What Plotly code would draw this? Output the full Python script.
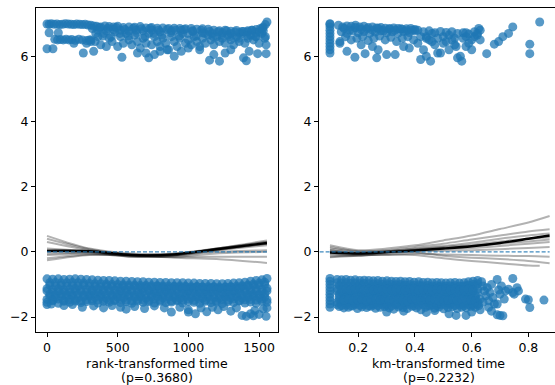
import plotly.graph_objects as go

# ---------------- data: rank-transformed time panel ----------------
rank_top_x = [0, 15, 30, 50, 70, 90, 110, 130, 150, 170, 190, 210, 230, 250, 270, 290, 310, 330,
              350, 380, 410, 440, 470, 500, 540, 580, 620, 660, 700, 740, 780, 820, 860, 900, 940, 980, 1020, 1060, 1100, 1140,
              1180, 1220, 1260, 1300, 1340, 1380, 1420, 1450, 1480, 1510, 1530, 1545, 1556,
              55, 75, 95, 115, 135, 155, 175, 200, 225, 250, 280, 310, 340,
              0, 42, 15, 80, 190, 257, 280, 300,
              310, 330, 360, 380, 400, 420, 440, 460, 480, 500, 520, 540, 560, 580, 600, 620, 640, 660, 680, 700,
              720, 740, 760, 780, 800, 820, 840, 860, 880, 900, 920, 940, 960, 980, 1000, 1020, 1040, 1060, 1080,
              1100, 1120, 1140, 1160, 1180, 1200, 1220, 1240, 1260, 1280, 1300, 1320, 1340, 1360, 1380, 1400, 1420,
              1440, 1460, 1480, 1500, 1520, 1540, 1550,
              530, 720, 640, 700, 760, 800, 850, 900, 950, 1150, 1180, 1220, 1260, 1300, 1390, 1410, 1430, 1490, 1550, 1000, 1080,
              360, 420, 470, 520, 580, 630, 680, 740, 800, 880, 950, 1030, 1100, 1170, 1240, 1300, 1360, 1420, 1480, 1530]
rank_top_y = [6.99, 6.98, 7.0, 6.98, 6.99, 6.97, 6.98, 7.0, 6.99, 6.98, 6.97, 6.99, 6.98, 6.97, 6.98, 6.96, 6.95, 6.93,
              6.92, 6.9, 6.93, 6.91, 6.9, 6.92, 6.88, 6.9, 6.89, 6.91, 6.87, 6.88, 6.86, 6.87, 6.85, 6.86, 6.85, 6.84, 6.85, 6.83, 6.84, 6.83,
              6.8, 6.78, 6.8, 6.77, 6.79, 6.76, 6.78, 6.8, 6.82, 6.85, 6.9, 6.97, 7.05,
              6.52, 6.5, 6.51, 6.5, 6.52, 6.5, 6.51, 6.49, 6.52, 6.5, 6.48, 6.5, 6.45,
              6.23, 6.23, 6.72, 6.72, 6.4, 6.1, 6.4, 6.5,
              6.45, 6.15, 6.6, 6.35, 6.7, 6.3, 6.55, 6.45, 6.75, 6.3, 6.6, 6.4, 6.7, 6.5, 6.35, 6.65, 6.45, 6.25, 6.55, 6.4,
              6.7, 6.35, 6.6, 6.45, 6.3, 6.55, 6.4, 6.2, 6.6, 6.45, 6.3, 6.55, 6.7, 6.4, 6.5, 6.35, 6.6, 6.45, 6.3,
              6.55, 6.4, 6.65, 6.5, 6.35, 6.6, 6.45, 6.55, 6.4, 6.65, 6.5, 6.35, 6.6, 6.45, 6.7, 6.4, 6.55,
              6.65, 6.5, 6.6, 6.4, 6.7, 6.55, 6.35,
              5.97, 5.95, 6.1, 6.1, 6.05, 6.15, 6.2, 6.0, 6.15, 5.88, 6.05, 5.85, 6.1, 6.2, 5.95, 5.86, 6.15, 6.08, 6.08, 6.25, 6.2,
              6.8, 6.78, 6.82, 6.8, 6.77, 6.8, 6.78, 6.8, 6.75, 6.78, 6.8, 6.76, 6.72, 6.7, 6.72, 6.7, 6.72, 6.75, 6.73, 6.78]
rank_top2_x = [320, 345, 370, 395, 430, 455, 490, 515, 550, 575, 610, 635, 670, 695, 730, 755, 790, 815, 850, 875,
               910, 935, 970, 995, 1030, 1055, 1090, 1115, 1150, 1175, 1210, 1235, 1270, 1295, 1330, 1355, 1390, 1415,
               1450, 1475, 1505, 1525, 1545]
rank_top2_y = [6.85, 6.7, 6.88, 6.62, 6.85, 6.6, 6.88, 6.7, 6.82, 6.62, 6.86, 6.72, 6.84, 6.6, 6.86, 6.7, 6.8, 6.65, 6.82, 6.72,
               6.8, 6.62, 6.82, 6.7, 6.78, 6.62, 6.8, 6.7, 6.76, 6.6, 6.75, 6.65, 6.78, 6.6, 6.74, 6.55, 6.76, 6.62,
               6.8, 6.6, 6.75, 6.85, 6.6]

rank_band_x_even = [0, 40, 80, 120, 160, 200, 240, 280, 320, 360, 400, 440, 480, 520, 560, 600, 640, 680, 720, 760,
                    800, 840, 880, 920, 960, 1000, 1040, 1080, 1120, 1160, 1200, 1240, 1280, 1320, 1360, 1400, 1440, 1480, 1520, 1556]
rank_band_x_odd = [20, 60, 100, 140, 180, 220, 260, 300, 340, 380, 420, 460, 500, 540, 580, 620, 660, 700, 740, 780,
                   820, 860, 900, 940, 980, 1020, 1060, 1100, 1140, 1180, 1220, 1260, 1300, 1340, 1380, 1420, 1460, 1500, 1540]
rank_band_y1 = [-0.83, -0.84, -0.83, -0.85, -0.84, -0.83, -0.84, -0.85, -0.86, -0.87, -0.88, -0.88, -0.89, -0.9, -0.9, -0.91,
                -0.92, -0.92, -0.93, -0.93, -0.94, -0.94, -0.95, -0.95, -0.95, -0.96, -0.96, -0.97, -0.97, -0.97, -0.98, -0.98,
                -0.97, -0.96, -0.95, -0.93, -0.9, -0.88, -0.86, -0.82]
rank_band_y2 = [-1.02, -1.05, -1.03, -1.06, -1.04, -1.05, -1.02, -1.06, -1.05, -1.07, -1.04, -1.06, -1.08, -1.05, -1.07, -1.06,
                -1.08, -1.07, -1.09, -1.06, -1.08, -1.1, -1.07, -1.09, -1.08, -1.1, -1.07, -1.09, -1.1, -1.08, -1.11, -1.09,
                -1.08, -1.1, -1.07, -1.05, -1.03, -1.02, -1.0]
rank_band_y3 = [-1.2, -1.24, -1.21, -1.23, -1.25, -1.2, -1.22, -1.24, -1.21, -1.25, -1.23, -1.22, -1.26, -1.21, -1.24, -1.22,
                -1.25, -1.23, -1.21, -1.26, -1.24, -1.22, -1.25, -1.23, -1.27, -1.22, -1.24, -1.26, -1.23, -1.25, -1.22, -1.27,
                -1.24, -1.23, -1.26, -1.22, -1.25, -1.21, -1.24, -1.2]
rank_band_y4 = [-1.36, -1.4, -1.37, -1.39, -1.35, -1.41, -1.38, -1.36, -1.4, -1.38, -1.42, -1.37, -1.39, -1.41, -1.36, -1.4,
                -1.38, -1.42, -1.39, -1.37, -1.41, -1.38, -1.4, -1.43, -1.37, -1.41, -1.39, -1.42, -1.38, -1.4, -1.43, -1.39,
                -1.41, -1.38, -1.42, -1.4, -1.37, -1.41, -1.39]
rank_band_y5 = [-1.55, -1.5, -1.58, -1.52, -1.55, -1.51, -1.56, -1.53, -1.5, -1.57, -1.52, -1.55, -1.5, -1.56, -1.53, -1.58,
                -1.51, -1.55, -1.53, -1.57, -1.52, -1.56, -1.54, -1.5, -1.57, -1.53, -1.55, -1.58, -1.52, -1.56, -1.54, -1.59,
                -1.53, -1.56, -1.51, -1.57, -1.54, -1.58, -1.52, -1.55]
rank_band_y6 = [-0.95, -0.94, -0.96, -0.95, -0.94, -0.95, -0.96, -0.97, -0.98, -0.98, -0.99, -1.0, -1.0, -1.01, -1.02, -1.02,
                -1.03, -1.03, -1.04, -1.04, -1.05, -1.05, -1.06, -1.05, -1.06, -1.07, -1.07, -1.08, -1.07, -1.08, -1.09, -1.08,
                -1.07, -1.06, -1.04, -1.02, -0.99, -0.96, -0.93]
rank_band_y7 = [-1.13, -1.16, -1.14, -1.17, -1.15, -1.13, -1.16, -1.15, -1.17, -1.14, -1.16, -1.15, -1.18, -1.14, -1.16, -1.17,
                -1.15, -1.13, -1.17, -1.16, -1.14, -1.18, -1.15, -1.16, -1.14, -1.17, -1.15, -1.18, -1.16, -1.14, -1.17, -1.15,
                -1.16, -1.18, -1.14, -1.16, -1.15, -1.13, -1.16, -1.12]
rank_band_y8 = [-1.3, -1.32, -1.29, -1.33, -1.31, -1.3, -1.34, -1.31, -1.29, -1.32, -1.3, -1.33, -1.31, -1.29, -1.32, -1.34,
                -1.3, -1.31, -1.33, -1.29, -1.32, -1.3, -1.34, -1.31, -1.32, -1.29, -1.33, -1.3, -1.32, -1.31, -1.34, -1.3,
                -1.32, -1.29, -1.33, -1.31, -1.3, -1.32, -1.29]
rank_band_y9 = [-1.46, -1.48, -1.45, -1.49, -1.47, -1.46, -1.5, -1.47, -1.45, -1.48, -1.46, -1.49, -1.47, -1.45, -1.48, -1.5,
                -1.46, -1.47, -1.49, -1.45, -1.48, -1.46, -1.5, -1.47, -1.48, -1.45, -1.49, -1.46, -1.48, -1.47, -1.5, -1.46,
                -1.48, -1.45, -1.49, -1.47, -1.46, -1.48, -1.45, -1.47]
rank_low_x = [0, 30, 120, 180, 250, 330, 400, 460, 520, 560, 620, 690, 760, 830, 880, 940, 1000, 1050, 1090, 1130, 1170,
              1210, 1250, 1300, 1340, 1380, 1410, 1440, 1470, 1500, 1530, 1550, 1556, 1000, 1460]
rank_low_y = [-1.62, -1.6, -1.65, -1.62, -1.7, -1.66, -1.72, -1.65, -1.7, -1.76, -1.68, -1.74, -1.66, -1.72, -1.85, -1.7,
              -1.78, -1.9, -1.72, -1.84, -1.7, -1.78, -1.68, -1.82, -1.72, -1.95, -1.98, -1.9, -1.8, -1.92, -1.75, -1.98,
              -1.72, -1.85, -1.96]

rank_fit_x = [0, 300, 600, 900, 1200, 1556]
rank_fit_black = [0.03, 0.02, -0.1, -0.08, 0.08, 0.27]
rank_fit_gray = [
    [0.49, 0.1, -0.05, -0.05, 0.1, 0.3],
    [0.4, 0.08, -0.08, -0.06, 0.08, 0.25],
    [0.3, 0.05, -0.1, -0.08, 0.1, 0.35],
    [0.1, 0.02, -0.08, -0.1, 0.05, 0.2],
    [0.05, 0.0, -0.12, -0.1, 0.1, 0.3],
    [0.0, 0.0, -0.15, -0.12, 0.05, 0.25],
    [-0.05, -0.03, -0.12, -0.1, 0.0, 0.05],
    [-0.1, -0.05, -0.15, -0.15, -0.05, 0.0],
    [-0.2, -0.08, -0.12, -0.15, -0.15, -0.15],
    [-0.26, -0.1, -0.1, -0.18, -0.22, -0.34],
]
rank_max = 1556

# ---------------- data: km-transformed time panel ----------------
km_top_x = [0.1, 0.1, 0.1, 0.1, 0.1, 0.1, 0.1, 0.1, 0.1, 0.1, 0.1,
            0.13, 0.145, 0.16, 0.175, 0.19, 0.205, 0.22, 0.235, 0.25, 0.265, 0.28, 0.295, 0.31, 0.325, 0.34, 0.355, 0.37, 0.385, 0.4,
            0.14, 0.16, 0.18, 0.2, 0.22, 0.24, 0.26, 0.28, 0.3, 0.32, 0.34, 0.36, 0.38, 0.4,
            0.135, 0.155, 0.175, 0.195, 0.215, 0.235, 0.255, 0.275, 0.295, 0.315, 0.335, 0.355, 0.375, 0.395,
            0.135, 0.16, 0.188, 0.224, 0.265, 0.27, 0.3, 0.33, 0.25, 0.36, 0.38, 0.21,
            0.41, 0.43, 0.45, 0.47, 0.49, 0.51, 0.53, 0.55, 0.57, 0.59, 0.61, 0.63,
            0.41, 0.42, 0.44, 0.455, 0.43, 0.45, 0.47, 0.48, 0.49, 0.5, 0.51, 0.52, 0.53, 0.545, 0.55, 0.56, 0.565,
            0.57, 0.58, 0.59, 0.6, 0.61, 0.62, 0.625, 0.63, 0.6, 0.44, 0.46, 0.48, 0.52, 0.54, 0.58,
            0.653, 0.68, 0.695, 0.71, 0.73, 0.745, 0.805, 0.805, 0.84]
km_top_y = [7.0, 6.98, 6.9, 6.8, 6.7, 6.6, 6.5, 6.4, 6.3, 6.2, 6.1,
            6.95, 6.9, 6.93, 6.92, 6.95, 6.9, 6.92, 6.88, 6.9, 6.87, 6.88, 6.86, 6.85, 6.87, 6.85, 6.83, 6.84, 6.85, 6.82,
            6.75, 6.7, 6.78, 6.72, 6.76, 6.7, 6.74, 6.78, 6.72, 6.75, 6.7, 6.76, 6.73, 6.78,
            6.45, 6.6, 6.5, 6.55, 6.6, 6.48, 6.55, 6.62, 6.5, 6.58, 6.45, 6.55, 6.6, 6.5,
            6.4, 6.15, 5.97, 6.08, 5.95, 6.2, 6.05, 6.05, 6.3, 6.3, 6.25, 6.35,
            6.8, 6.75, 6.78, 6.72, 6.76, 6.73, 6.75, 6.7, 6.72, 6.68, 6.75, 6.8,
            6.4, 5.9, 6.0, 5.85, 6.2, 6.5, 6.35, 6.1, 6.1, 6.6, 6.45, 6.2, 6.5, 6.3, 5.95, 6.0, 5.85,
            6.55, 6.3, 6.4, 6.5, 6.6, 6.65, 6.85, 6.5, 6.2, 6.6, 6.7, 6.55, 6.65, 6.55, 6.6,
            6.08, 6.37, 6.45, 6.6, 6.7, 6.9, 6.37, 6.08, 7.05]
km_top2_x = [0.15, 0.17, 0.19, 0.21, 0.23, 0.25, 0.27, 0.29, 0.31, 0.33, 0.35, 0.37, 0.39, 0.42, 0.44, 0.46, 0.5, 0.54, 0.58, 0.62]
km_top2_y = [6.85, 6.8, 6.88, 6.82, 6.84, 6.8, 6.86, 6.78, 6.83, 6.8, 6.84, 6.78, 6.8, 6.6, 6.55, 6.45, 6.4, 6.35, 6.72, 6.7]

km_band_x_even = [0.125, 0.141, 0.157, 0.173, 0.189, 0.205, 0.221, 0.237, 0.253, 0.269, 0.285, 0.301, 0.317, 0.333, 0.349,
                  0.365, 0.381, 0.397, 0.413, 0.429, 0.445, 0.461, 0.477, 0.493, 0.509, 0.525, 0.541, 0.557, 0.573, 0.589,
                  0.605, 0.621]
km_band_x_odd = [0.133, 0.149, 0.165, 0.181, 0.197, 0.213, 0.229, 0.245, 0.261, 0.277, 0.293, 0.309, 0.325, 0.341, 0.357,
                 0.373, 0.389, 0.405, 0.421, 0.437, 0.453, 0.469, 0.485, 0.501, 0.517, 0.533, 0.549, 0.565, 0.581, 0.597,
                 0.613]
km_band_y1 = [-0.85, -0.86, -0.85, -0.87, -0.86, -0.88, -0.87, -0.88, -0.89, -0.88, -0.9, -0.89, -0.9, -0.91, -0.9, -0.92,
              -0.91, -0.93, -0.92, -0.94, -0.93, -0.95, -0.94, -0.95, -0.96, -0.95, -0.94, -0.96, -0.95, -0.92, -0.9, -0.88]
km_band_y2 = [-1.03, -1.06, -1.04, -1.07, -1.05, -1.02, -1.06, -1.08, -1.04, -1.07, -1.05, -1.09, -1.06, -1.08, -1.05, -1.1,
              -1.07, -1.09, -1.06, -1.1, -1.08, -1.11, -1.07, -1.09, -1.12, -1.08, -1.1, -1.07, -1.05, -1.08, -1.04]
km_band_y3 = [-1.2, -1.24, -1.22, -1.25, -1.21, -1.23, -1.26, -1.22, -1.24, -1.2, -1.25, -1.23, -1.21, -1.26, -1.24, -1.22,
              -1.25, -1.23, -1.27, -1.22, -1.24, -1.26, -1.23, -1.25, -1.22, -1.27, -1.24, -1.21, -1.25, -1.23, -1.2, -1.26]
km_band_y4 = [-1.37, -1.4, -1.38, -1.42, -1.36, -1.39, -1.41, -1.37, -1.4, -1.43, -1.38, -1.36, -1.41, -1.39, -1.42, -1.37,
              -1.4, -1.38, -1.43, -1.39, -1.41, -1.37, -1.4, -1.42, -1.38, -1.41, -1.39, -1.36, -1.4, -1.38, -1.42]
km_band_y5 = [-1.55, -1.52, -1.58, -1.54, -1.57, -1.51, -1.56, -1.53, -1.58, -1.55, -1.52, -1.57, -1.54, -1.59, -1.53, -1.56,
              -1.51, -1.58, -1.55, -1.52, -1.57, -1.54, -1.6, -1.53, -1.56, -1.58, -1.52, -1.55, -1.59, -1.54, -1.57, -1.52]
km_band_y6 = [-1.68, -1.72, -1.7, -1.66, -1.74, -1.69, -1.71, -1.67, -1.73, -1.7, -1.68, -1.72, -1.76, -1.69, -1.71, -1.74,
              -1.67, -1.72, -1.78, -1.7, -1.66, -1.73, -1.69, -1.75, -1.71, -1.68, -1.74, -1.7, -1.72, -1.67, -1.7]
km_band_y7 = [-0.95, -0.96, -0.95, -0.97, -0.96, -0.98, -0.97, -0.98, -0.99, -0.98, -1.0, -0.99, -1.0, -1.01, -1.0, -1.02,
              -1.01, -1.03, -1.02, -1.04, -1.03, -1.05, -1.04, -1.05, -1.06, -1.05, -1.04, -1.06, -1.05, -1.02, -1.0, -0.98]
km_band_y8 = [-1.3, -1.32, -1.29, -1.33, -1.31, -1.3, -1.34, -1.31, -1.29, -1.32, -1.3, -1.33, -1.31, -1.29, -1.32, -1.34,
              -1.3, -1.31, -1.33, -1.29, -1.32, -1.3, -1.34, -1.31, -1.32, -1.29, -1.33, -1.3, -1.32, -1.31, -1.34]
km_band_y9 = [-1.62, -1.65, -1.63, -1.66, -1.61, -1.64, -1.62, -1.66, -1.63, -1.65, -1.61, -1.64, -1.66, -1.62, -1.65, -1.63,
              -1.61, -1.66, -1.64, -1.62, -1.65, -1.63, -1.66, -1.61, -1.64, -1.62, -1.65, -1.63, -1.66, -1.62, -1.64, -1.6]
km_band_y10 = [-1.13, -1.16, -1.14, -1.17, -1.15, -1.13, -1.16, -1.15, -1.17, -1.14, -1.16, -1.15, -1.18, -1.14, -1.16, -1.17,
               -1.15, -1.13, -1.17, -1.16, -1.14, -1.18, -1.15, -1.16, -1.14, -1.17, -1.15, -1.18, -1.16, -1.14, -1.17, -1.15]
km_band_y11 = [-1.46, -1.48, -1.45, -1.49, -1.47, -1.46, -1.5, -1.47, -1.45, -1.48, -1.46, -1.49, -1.47, -1.45, -1.48, -1.5,
               -1.46, -1.47, -1.49, -1.45, -1.48, -1.46, -1.5, -1.47, -1.48, -1.45, -1.49, -1.46, -1.48, -1.47, -1.5]
km_extra_x = [0.1, 0.1, 0.1, 0.1, 0.1, 0.1, 0.1, 0.1, 0.1, 0.1,
              0.3, 0.36, 0.44, 0.47, 0.52, 0.545, 0.58, 0.6, 0.67, 0.69, 0.7, 0.71,
              0.635, 0.64, 0.645, 0.65, 0.655, 0.66, 0.665, 0.67, 0.675, 0.68, 0.69, 0.695, 0.7, 0.705, 0.715, 0.72,
              0.73, 0.745, 0.745, 0.76, 0.765, 0.79, 0.8, 0.805, 0.855, 0.625, 0.63, 0.64, 0.66, 0.69, 0.63, 0.75]
km_extra_y = [-0.82, -0.9, -1.0, -1.1, -1.2, -1.3, -1.4, -1.5, -1.6, -1.7,
              -1.85, -1.82, -1.86, -1.8, -1.9, -1.95, -1.95, -1.85, -1.82, -1.93, -1.95, -1.96,
              -0.92, -1.05, -1.2, -1.35, -1.1, -1.5, -1.25, -1.0, -1.4, -1.6, -0.85, -1.17, -1.3, -1.05, -1.45, -1.2,
              -1.15, -0.82, -1.25, -1.1, -1.2, -1.45, -1.47, -1.71, -1.48, -1.65, -1.45, -1.55, -1.7, -1.6, -1.78, -1.3]

km_fit_x = [0.1, 0.2, 0.3, 0.4, 0.5, 0.6, 0.7, 0.8, 0.875]
km_fit_black = [-0.02, -0.05, -0.01, 0.04, 0.1, 0.17, 0.27, 0.4, 0.5]
km_fit_gray = [
    [0.2, 0.05, 0.1, 0.2, 0.35, 0.5, 0.7, 0.9, 1.1],
    [0.15, 0.02, 0.05, 0.15, 0.25, 0.38, 0.5, 0.62, 0.69],
    [0.1, 0.0, 0.03, 0.1, 0.18, 0.28, 0.4, 0.5, 0.56],
    [0.05, -0.03, 0.02, 0.08, 0.15, 0.22, 0.32, 0.4, 0.45],
    [0.0, -0.05, 0.0, 0.06, 0.12, 0.18, 0.25, 0.32, 0.38],
    [-0.05, -0.08, -0.02, 0.05, 0.08, 0.12, 0.18, 0.25, 0.3],
    [-0.1, -0.12, -0.05, 0.02, 0.03, 0.05, 0.08, 0.12, 0.15],
    [-0.15, -0.1, -0.1, -0.05, -0.08, -0.1, -0.12, -0.13, -0.15],
    [0.05, -0.05, 0.0, -0.02, -0.12, -0.18, -0.22, -0.28, -0.35],
    [-0.17, -0.12, -0.08, -0.1, -0.2, -0.28, -0.35, -0.42, -0.43],
]
km_fit_short_x = [0.1, 0.2, 0.3, 0.4, 0.5, 0.6, 0.7, 0.8, 0.84]
km_max = 0.875

panel_titles = ["rank-transformed time", "km-transformed time"]
panel_pvalues = ["(p=0.3680)", "(p=0.2232)"]
y_ticks = [-2, 0, 2, 4, 6]
rank_ticks = [0, 500, 1000, 1500]
km_ticks = [0.2, 0.4, 0.6, 0.8]

# ---------------- figure ----------------
BLUE = "#1f77b4"
W, H = 555, 385
fig = go.Figure()


def add_panel(xa, ya, xs_list, ys_list, fit_x, fit_black, fit_gray, xmax, short_x=None):
    xs, ys = [], []
    for a, b in zip(xs_list, ys_list):
        xs += list(a)
        ys += list(b)
    fig.add_trace(go.Scatter(x=xs, y=ys, mode="markers", xaxis=xa, yaxis=ya,
                             marker=dict(color=BLUE, size=9, opacity=0.75, line=dict(width=0)),
                             hoverinfo="skip"))
    for i, g in enumerate(fit_gray):
        gx = short_x if (short_x is not None and i == len(fit_gray) - 1) else fit_x
        fig.add_trace(go.Scatter(x=gx, y=g, mode="lines", xaxis=xa, yaxis=ya,
                                 line=dict(color="rgba(0,0,0,0.3)", width=2, shape="spline", smoothing=0.8),
                                 hoverinfo="skip"))
    fig.add_trace(go.Scatter(x=fit_x, y=fit_black, mode="lines", xaxis=xa, yaxis=ya,
                             line=dict(color="black", width=2.4, shape="spline", smoothing=0.8),
                             hoverinfo="skip"))
    fig.add_trace(go.Scatter(x=[0, xmax], y=[0, 0], mode="lines", xaxis=xa, yaxis=ya,
                             line=dict(color=BLUE, width=1.2, dash="4px,2px"), opacity=0.85,
                             hoverinfo="skip"))


add_panel("x", "y",
          [rank_top_x, rank_top2_x, rank_band_x_even, rank_band_x_odd, rank_band_x_even, rank_band_x_odd,
           rank_band_x_even, rank_band_x_odd, rank_band_x_even, rank_band_x_odd, rank_band_x_even, rank_low_x],
          [rank_top_y, rank_top2_y, rank_band_y1, rank_band_y2, rank_band_y3, rank_band_y4,
           rank_band_y5, rank_band_y6, rank_band_y7, rank_band_y8, rank_band_y9, rank_low_y],
          rank_fit_x, rank_fit_black, rank_fit_gray, rank_max)
add_panel("x2", "y2",
          [km_top_x, km_top2_x, km_band_x_even, km_band_x_odd, km_band_x_even, km_band_x_odd, km_band_x_even,
           km_band_x_odd, km_band_x_even, km_band_x_odd, km_band_x_even, km_band_x_even, km_band_x_odd, km_extra_x],
          [km_top_y, km_top2_y, km_band_y1, km_band_y2, km_band_y3, km_band_y4, km_band_y5,
           km_band_y6, km_band_y7, km_band_y8, km_band_y9, km_band_y10, km_band_y11, km_extra_y],
          km_fit_x, km_fit_black, km_fit_gray, km_max, km_fit_short_x)

FONT = dict(family="DejaVu Sans", size=12.5, color="black")
axis_common = dict(showgrid=False, zeroline=False, showline=True, linecolor="black", linewidth=1,
                   ticks="outside", ticklen=4, tickwidth=1, tickcolor="black", tickfont=FONT)

L1, R1, L2 = 36, 278, 319
top_m, bot_m = 8, 53
fig.update_layout(
    width=W, height=H,
    margin=dict(l=0, r=0, t=top_m, b=bot_m, pad=0),
    paper_bgcolor="white", plot_bgcolor="white", showlegend=False,
    font=FONT,
    xaxis=dict(domain=[L1 / W, R1 / W], range=[-77.8, 1634], tickvals=rank_ticks,
               anchor="y", mirror=True, **axis_common),
    yaxis=dict(domain=[0, 1], range=[-2.46, 7.48], tickvals=y_ticks, anchor="x", mirror=True, **axis_common),
    xaxis2=dict(domain=[L2 / W, 1.0], range=[0.0613, 0.894], tickvals=km_ticks,
                ticktext=[str(t) for t in km_ticks], anchor="y2", mirror=True, **axis_common),
    yaxis2=dict(domain=[0, 1], range=[-2.46, 7.48], tickvals=y_ticks, anchor="x2", mirror=False, **axis_common),
)

centers = [(L1 + R1) / 2 / W, 438.5 / W]
for c, t, p in zip(centers, panel_titles, panel_pvalues):
    fig.add_annotation(x=c, y=0, xref="paper", yref="paper", xanchor="center", yanchor="top",
                       text=t, showarrow=False, font=FONT, yshift=-22)
    fig.add_annotation(x=c, y=0, xref="paper", yref="paper", xanchor="center", yanchor="top",
                       text=p, showarrow=False, font=FONT, yshift=-36)

fig.write_html("out.html")
